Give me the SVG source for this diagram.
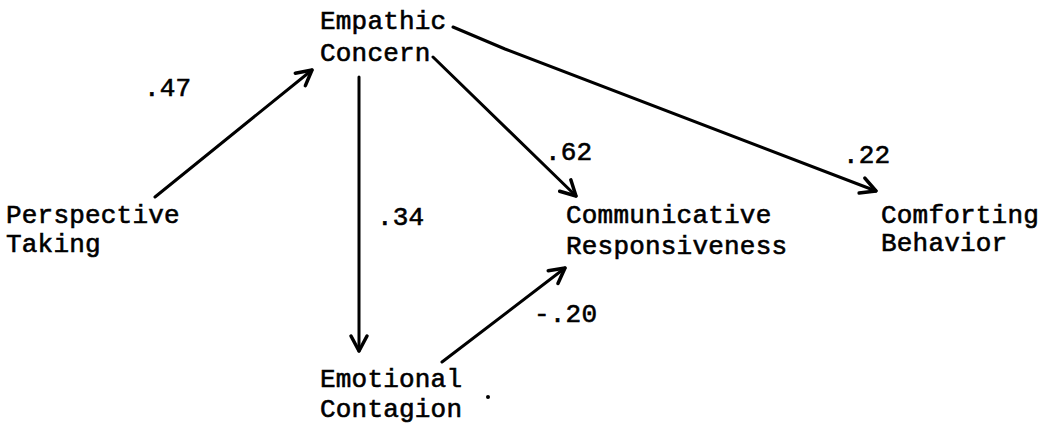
<svg xmlns="http://www.w3.org/2000/svg" width="1041" height="425" viewBox="0 0 1041 425">
<defs>
<style>
.t{font-family:"Liberation Mono","DejaVu Sans Mono",monospace;font-size:26px;letter-spacing:0.2px;fill:#000;stroke:#000;stroke-width:0.6}
.c{fill:none;stroke:#000;stroke-width:3;stroke-linecap:round;stroke-linejoin:round}
</style>
<marker id="ah" markerUnits="userSpaceOnUse" markerWidth="40" markerHeight="40" refX="0" refY="0" viewBox="-20 -20 40 40" orient="auto" overflow="visible">
<path d="M-15,-8 L0,0 L-15,8" fill="none" stroke="#000" stroke-width="3.5" stroke-linecap="round" stroke-linejoin="round"/>
</marker>
</defs>
<rect width="1041" height="425" fill="#fff"/>
<g id="connectors">
<path class="c" d="M155,197 L312,70" marker-end="url(#ah)"/>
<path class="c" d="M359,77 L359,351" marker-end="url(#ah)"/>
<path class="c" d="M433,57 L576,196" marker-end="url(#ah)"/>
<path class="c" d="M453,27 L505,49 L876,191" marker-end="url(#ah)"/>
<path class="c" d="M442,362 L565,268" marker-end="url(#ah)"/>
</g>
<g id="labels">
<text class="t" x="144" y="96">.47</text>
<text class="t" x="377" y="225">.34</text>
<text class="t" x="545" y="160">.62</text>
<text class="t" x="843" y="163">.22</text>
<text class="t" x="534" y="322">-.20</text>
</g>
<g id="node-empathic-concern">
<text class="t" x="320" y="29">Empathic</text>
<text class="t" x="320" y="61">Concern</text>
</g>
<g id="node-perspective-taking">
<text class="t" x="6" y="223">Perspective</text>
<text class="t" x="6" y="252">Taking</text>
</g>
<g id="node-communicative-responsiveness">
<text class="t" x="566" y="223">Communicative</text>
<text class="t" x="566" y="254">Responsiveness</text>
</g>
<g id="node-comforting-behavior">
<text class="t" x="881" y="223">Comforting</text>
<text class="t" x="881" y="251">Behavior</text>
</g>
<g id="node-emotional-contagion">
<text class="t" x="320" y="387">Emotional</text>
<text class="t" x="320" y="417">Contagion</text>
</g>
<circle cx="488" cy="397" r="2" fill="#000"/>
</svg>
